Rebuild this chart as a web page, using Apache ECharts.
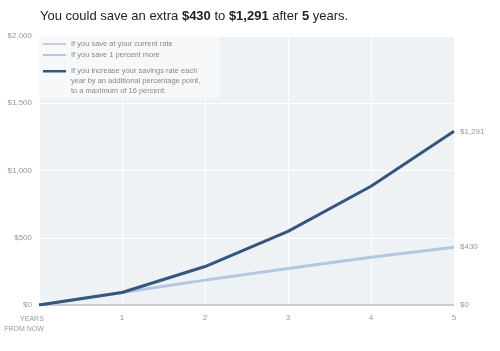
<!DOCTYPE html>
<html><head><meta charset="utf-8">
<script src="https://cdn.jsdelivr.net/npm/echarts@6/dist/echarts.min.js"></script>
<style>html,body{margin:0;padding:0;background:#fff}#c{width:500px;height:351px}</style>
</head><body><div id="c"></div>
<script>
const years = [0, 1, 2, 3, 4, 5];
const currentRate = [0, 0, 0, 0, 0, 0];
const onePercentMore = [0, 93, 185, 272, 355, 430];
const increaseEachYear = [0, 93, 286, 547, 883, 1291];
const yTicks = [0, 500, 1000, 1500, 2000];
const seriesNames = [
  'If you save at your current rate',
  'If you save 1 percent more',
  'If you increase your savings rate each\nyear by an additional percentage point,\nto a maximum of 16 percent.'
];
const FONT = '"Liberation Sans", Arial, sans-serif';
const fmt = v => '$' + Math.round(v).toLocaleString('en-US');
const pairs = arr => years.map((y, i) => [y, arr[i]]);

const chart = echarts.init(document.getElementById('c'));
const mk = (name, data, color, width, z) => ({
  name, type: 'line', data: pairs(data), symbol: 'none', z,
  lineStyle: { color, width }, itemStyle: { color },
  endLabel: { show: true, formatter: p => fmt(p.value[1]), color: '#999', fontSize: 8, fontFamily: FONT, distance: 6 },
  emphasis: { disabled: true }, animation: false
});
chart.setOption({
  animation: false,
  title: {
    left: 40, top: 10, padding: 0,
    text: '{n|You could save an extra }{b|$430}{n| to }{b|$1,291}{n| after }{b|5}{n| years.}',
    textStyle: { fontWeight: 'normal', rich: {
      n: { fontSize: 13, fontFamily: FONT, color: '#222', fontWeight: 'normal' },
      b: { fontSize: 13, fontFamily: FONT, color: '#222', fontWeight: 'bold' }
    } }
  },
  legend: [{
    data: [seriesNames[0], seriesNames[1]],
    orient: 'vertical', left: 39, top: 36,
    padding: [3, 47, 38, 4], itemGap: 1,
    backgroundColor: '#f7f8f9',
    icon: 'rect', itemWidth: 23, itemHeight: 2,
    itemStyle: { borderWidth: 0 },
    textStyle: { fontSize: 7.5, lineHeight: 10, color: '#888', fontFamily: FONT },
    selectedMode: false
  }, {
    data: [seriesNames[2]],
    orient: 'vertical', left: 39, top: 66, z: 5,
    padding: [0, 0, 0, 4],
    icon: 'path://M0,0H23V2.4H0Z M0,22H23V22H0Z', itemWidth: 23, itemHeight: 22,
    itemStyle: { borderWidth: 0 },
    textStyle: { fontSize: 7.5, lineHeight: 10, color: '#888', fontFamily: FONT },
    selectedMode: false
  }],
  grid: { left: 39, right: 46, top: 36, bottom: 46, show: true, backgroundColor: '#eff2f4', borderWidth: 0 },
  xAxis: {
    type: 'value', min: 0, max: 5, interval: 1,
    axisLine: { show: false }, axisTick: { show: false },
    splitLine: { show: true, lineStyle: { color: '#ffffff', width: 1 } },
    axisLabel: {
      margin: 9, color: '#999', fontSize: 8, fontFamily: FONT,
      formatter: v => v === 0 ? '{y|YEARS\nFROM NOW}' : String(v),
      rich: { y: { align: 'right', fontSize: 7, lineHeight: 10, color: '#999', fontFamily: FONT, padding: [0, 30, 0, 0] } }
    }
  },
  yAxis: {
    type: 'value', min: 0, max: 2000, interval: 500,
    axisLine: { show: false }, axisTick: { show: false },
    splitLine: { show: true, lineStyle: { color: '#ffffff', width: 1 } },
    axisLabel: { margin: 7, color: '#999', fontSize: 8, fontFamily: FONT, formatter: v => fmt(v) }
  },
  series: [
    mk(seriesNames[0], currentRate, '#c9cdd1', 2, 2),
    mk(seriesNames[1], onePercentMore, '#b3c7e0', 3, 3),
    mk(seriesNames[2], increaseEachYear, '#34567f', 3, 4)
  ]
});
</script></body></html>
